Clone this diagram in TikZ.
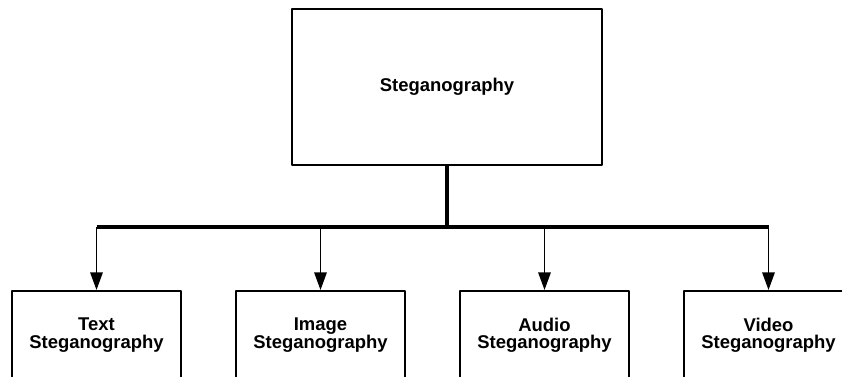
\documentclass[tikz,border=0pt]{standalone}
\usepackage{fontspec}
\setmainfont{Liberation Sans}
\usetikzlibrary{arrows.meta}
\begin{document}
\begin{tikzpicture}[>={Triangle[length=10pt,width=7pt]},line join=round,font={\fontsize{10.5}{9.8}\selectfont\bfseries\lineskiplimit=-5pt\relax},
box/.style={draw,line width=1.1pt,align=center,inner sep=0pt},
declare function={d=4.48;}]
\useasboundingbox (0,0) rectangle (16.84,7.52);
\node[box,minimum width=6.2cm,minimum height=3.12cm] (main) at (8.94,5.78) {Steganography};
\foreach \n/\t [count=\i from 0] in {text/Text,image/Image,audio/Audio,video/Video}
\node[box,minimum width=3.38cm,minimum height=1.76cm] (\n) at (1.93+d*\i,0.82) {\t\\Steganography};
\coordinate (bar) at (main.south |- 0,2.98);
\draw[line width=1.85pt] (main.south) -- (bar);
\draw[line width=1.85pt] (text.north |- bar) -- (video.north |- bar);
\foreach \n in {text,image,audio,video}
\draw[->,line width=1.1pt] (\n.north |- bar) -- (\n.north);
\end{tikzpicture}
\end{document}
